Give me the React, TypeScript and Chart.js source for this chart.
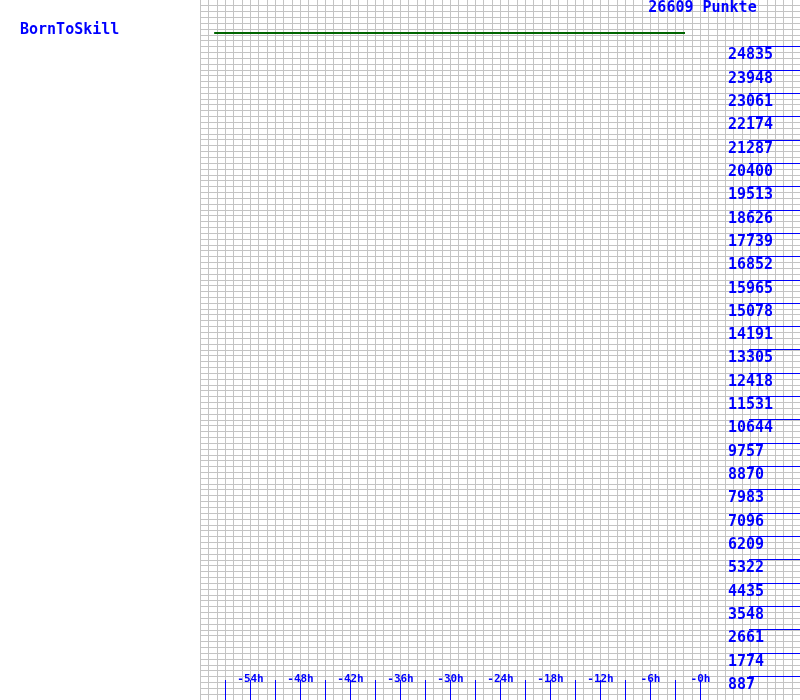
import React, { useEffect, useRef } from "react";
import { Chart, registerables } from "chart.js";

Chart.register(...registerables);

// ---- data ----
const playerName = "BornToSkill";
const maxPoints = 26609;
const pointsLabel = "26609 Punkte";
const seriesHours = [-58.3, -1.8];
const seriesPoints = [25355, 25355];
const yTickValues = [
  887, 1774, 2661, 3548, 4435, 5322, 6209, 7096, 7983, 8870, 9757, 10644, 11531, 12418,
  13305, 14191, 15078, 15965, 16852, 17739, 18626, 19513, 20400, 21287, 22174, 23061,
  23948, 24835,
];
const xTickHours = [-57, -54, -51, -48, -45, -42, -39, -36, -33, -30, -27, -24, -21, -18, -15, -12, -9, -6, -3, 0];
const xLabelHours = [-54, -48, -42, -36, -30, -24, -18, -12, -6, 0];
const xLabelTexts = ["-54h", "-48h", "-42h", "-36h", "-30h", "-24h", "-18h", "-12h", "-6h", "-0h"];
const xMin = -60;
const xMax = 12;
const gridRows = 120;

const BLUE = "#0000ff";
const GRID = "#c4c4c4";
const MONO = '"DejaVu Sans Mono", "Liberation Mono", monospace';

const decorPlugin = {
  id: "decor",
  beforeDatasetsDraw(chart: any) {
    const { ctx } = chart;
    const xs = chart.scales.x;
    const ys = chart.scales.y;
    ctx.save();
    ctx.fillStyle = "#ffffff";
    ctx.fillRect(0, 0, chart.width, chart.height);
    ctx.fillStyle = GRID;
    for (let h = xMin; h < xMax; h++) {
      const x = Math.round(xs.getPixelForValue(h));
      ctx.fillRect(x, ys.top, 1, ys.bottom - ys.top);
    }
    for (let k = 1; k < gridRows; k++) {
      const y = Math.floor(ys.getPixelForValue((k * maxPoints) / gridRows));
      ctx.fillRect(xs.left, y, xs.right - xs.left, 1);
    }
    ctx.restore();
  },
  afterDatasetsDraw(chart: any) {
    const { ctx } = chart;
    const xs = chart.scales.x;
    const ys = chart.scales.y;
    ctx.save();
    ctx.fillStyle = BLUE;

    // y ticks
    ctx.font = `bold 15px ${MONO}`;
    ctx.textAlign = "left";
    ctx.textBaseline = "alphabetic";
    yTickValues.forEach((v) => {
      const y = Math.floor(ys.getPixelForValue(v));
      ctx.fillRect(749, y, xs.right - 749, 1);
      ctx.fillText(String(v), 728, y + 13);
    });

    // x ticks
    xTickHours.forEach((h) => {
      const x = Math.round(xs.getPixelForValue(h));
      ctx.fillRect(x, ys.bottom - 20, 1, 20);
    });
    ctx.font = `bold 11px ${MONO}`;
    ctx.textAlign = "center";
    xLabelHours.forEach((h, i) => {
      const x = xs.getPixelForValue(h) + 0.5;
      ctx.fillText(xLabelTexts[i], x, ys.bottom - 18);
    });

    // titles
    ctx.font = `bold 15px ${MONO}`;
    ctx.textAlign = "left";
    ctx.fillText(playerName, 20, 34);
    ctx.textAlign = "center";
    ctx.fillText(pointsLabel, 702.5, 12);
    ctx.restore();
  },
};

export default function App() {
  const ref = useRef<HTMLCanvasElement | null>(null);
  useEffect(() => {
    if (!ref.current) return;
    const chart = new Chart(ref.current, {
      type: "line",
      data: {
        datasets: [
          {
            data: seriesHours.map((h, i) => ({ x: h, y: seriesPoints[i] })),
            borderColor: "#006400",
            borderWidth: 2,
            pointRadius: 0,
            fill: false,
            tension: 0,
          },
        ],
      },
      options: {
        responsive: false,
        animation: false,
        layout: { padding: { left: 200, top: 0, right: 0, bottom: 0 } },
        scales: {
          x: { type: "linear", min: xMin, max: xMax, display: false },
          y: { type: "linear", min: 0, max: maxPoints, display: false },
        },
        plugins: { legend: { display: false }, tooltip: { enabled: false }, title: { display: false } },
      },
      plugins: [decorPlugin],
    });
    return () => chart.destroy();
  }, []);
  return (
    <div style={{ position: "absolute", left: 0, top: 0, width: 800, height: 700, background: "#fff" }}>
      <canvas ref={ref} width={800} height={700} style={{ display: "block" }} />
    </div>
  );
}
